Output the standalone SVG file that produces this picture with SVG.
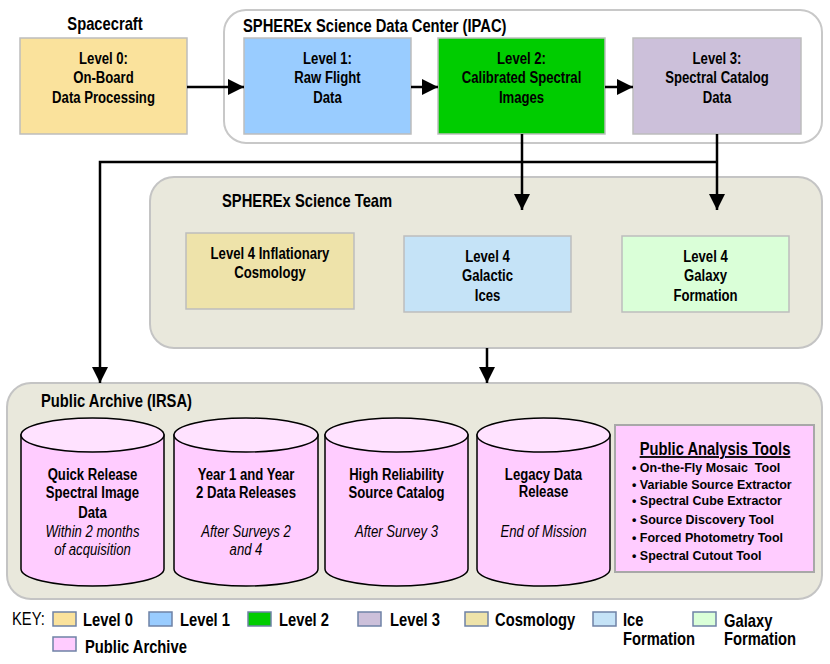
<svg xmlns="http://www.w3.org/2000/svg" width="830" height="664" viewBox="0 0 830 664">
<style>
text{font-family:'Liberation Sans',Arial,sans-serif;fill:#000}
.t{font-size:18px;font-weight:bold}
.b{font-size:16px;font-weight:bold;text-anchor:middle}
.i{font-size:16px;font-style:italic;text-anchor:middle}
.tool{font-size:13px;font-weight:bold}
.k{font-size:18px;font-weight:bold}
.box{stroke:#BDBDBD;stroke-width:1.5}
.cont{fill:#E9E8DC;stroke:#C4C4C4;stroke-width:2}
.cyl{fill:#FFCCFF;stroke:#000;stroke-width:1.5}
.cyltop{fill:#FFE2FF;stroke:#000;stroke-width:1.5}
.sw{stroke:#6F82A6;stroke-width:1.5}
.c{fill:none;stroke:#000;stroke-width:2.5}
</style>
<defs>
<marker id="ah" markerUnits="userSpaceOnUse" markerWidth="16" markerHeight="16" viewBox="0 0 14 14" refX="14" refY="7" orient="auto">
<path d="M0,0 L14,7 L0,14 Z" fill="#000"/>
</marker>
</defs>

<g id="ipac">
<rect x="224" y="10" width="598" height="133" rx="22" fill="#fff" stroke="#C8C8C8" stroke-width="2"/>
<text class="t" transform="translate(243 32) scale(.82 1)">SPHEREx Science Data Center (IPAC)</text>
</g>
<g id="team">
<rect class="cont" x="150" y="177" width="672" height="171" rx="24"/>
<text class="t" transform="translate(222 207) scale(.82 1)">SPHEREx Science Team</text>
</g>
<g id="archive">
<rect class="cont" x="7" y="383" width="815" height="216" rx="24"/>
<text class="t" transform="translate(41 407) scale(.82 1)">Public Archive (IRSA)</text>
</g>

<g id="spacecraft-label"><text class="t" text-anchor="middle" transform="translate(105 30) scale(.82 1)">Spacecraft</text></g>

<g id="level0">
<rect class="box" x="20" y="38" width="167" height="96" fill="#FAE29C"/>
<text class="b" transform="translate(103.5 64) scale(.82 1)">Level 0:</text>
<text class="b" transform="translate(103.5 83) scale(.82 1)">On-Board</text>
<text class="b" transform="translate(103.5 103) scale(.82 1)">Data Processing</text>
</g>
<g id="level1">
<rect class="box" x="244" y="38" width="167" height="96" fill="#99CCFF"/>
<text class="b" transform="translate(327.5 64) scale(.82 1)">Level 1:</text>
<text class="b" transform="translate(327.5 83) scale(.82 1)">Raw Flight</text>
<text class="b" transform="translate(327.5 103) scale(.82 1)">Data</text>
</g>
<g id="level2">
<rect class="box" x="438" y="38" width="167" height="96" fill="#00CC00"/>
<text class="b" transform="translate(521.5 64) scale(.82 1)">Level 2:</text>
<text class="b" transform="translate(521.5 83) scale(.82 1)">Calibrated Spectral</text>
<text class="b" transform="translate(521.5 103) scale(.82 1)">Images</text>
</g>
<g id="level3">
<rect class="box" x="633" y="38" width="168" height="96" fill="#CCC0DA"/>
<text class="b" transform="translate(717 64) scale(.82 1)">Level 3:</text>
<text class="b" transform="translate(717 83) scale(.82 1)">Spectral Catalog</text>
<text class="b" transform="translate(717 103) scale(.82 1)">Data</text>
</g>

<g id="cosmology">
<rect class="box" x="186" y="233" width="168" height="76" fill="#EEE3AA"/>
<text class="b" transform="translate(270 259) scale(.82 1)">Level 4 Inflationary</text>
<text class="b" transform="translate(270 278) scale(.82 1)">Cosmology</text>
</g>
<g id="ices">
<rect class="box" x="404" y="236" width="167" height="76" fill="#C5E3F7"/>
<text class="b" transform="translate(487.5 262) scale(.82 1)">Level 4</text>
<text class="b" transform="translate(487.5 281) scale(.82 1)">Galactic</text>
<text class="b" transform="translate(487.5 301) scale(.82 1)">Ices</text>
</g>
<g id="galaxy">
<rect class="box" x="622" y="236" width="167" height="76" fill="#DAFFD8"/>
<text class="b" transform="translate(705.5 262) scale(.82 1)">Level 4</text>
<text class="b" transform="translate(705.5 281) scale(.82 1)">Galaxy</text>
<text class="b" transform="translate(705.5 301) scale(.82 1)">Formation</text>
</g>

<g id="quick-release">
<path class="cyl" d="M21,435 V569 A71.5,17 0 0 0 164,569 V435 Z"/>
<ellipse class="cyltop" cx="92.5" cy="435" rx="71.5" ry="17"/>
<text class="b" transform="translate(92.5 480) scale(.82 1)">Quick Release</text>
<text class="b" transform="translate(92.5 498) scale(.82 1)">Spectral Image</text>
<text class="b" transform="translate(92.5 518) scale(.82 1)">Data</text>
<text class="i" transform="translate(92.5 537) scale(.82 1)">Within 2 months</text>
<text class="i" transform="translate(92.5 555) scale(.82 1)">of acquisition</text>
</g>
<g id="year-releases">
<path class="cyl" d="M174,435 V569 A72,17 0 0 0 318,569 V435 Z"/>
<ellipse class="cyltop" cx="246" cy="435" rx="72" ry="17"/>
<text class="b" transform="translate(246 480) scale(.82 1)">Year 1 and Year</text>
<text class="b" transform="translate(246 498) scale(.82 1)">2 Data Releases</text>
<text class="i" transform="translate(246 537) scale(.82 1)">After Surveys 2</text>
<text class="i" transform="translate(246 555) scale(.82 1)">and 4</text>
</g>
<g id="high-reliability">
<path class="cyl" d="M325,435 V569 A71.5,17 0 0 0 468,569 V435 Z"/>
<ellipse class="cyltop" cx="396.5" cy="435" rx="71.5" ry="17"/>
<text class="b" transform="translate(396.5 480) scale(.82 1)">High Reliability</text>
<text class="b" transform="translate(396.5 498) scale(.82 1)">Source Catalog</text>
<text class="i" transform="translate(396.5 537) scale(.82 1)">After Survey 3</text>
</g>
<g id="legacy">
<path class="cyl" d="M477,435 V569 A66.5,17 0 0 0 610,569 V435 Z"/>
<ellipse class="cyltop" cx="543.5" cy="435" rx="66.5" ry="17"/>
<text class="b" transform="translate(543.5 480) scale(.82 1)">Legacy Data</text>
<text class="b" transform="translate(543.5 497) scale(.82 1)">Release</text>
<text class="i" transform="translate(543.5 537) scale(.82 1)">End of Mission</text>
</g>

<g id="tools">
<rect x="615" y="425" width="199" height="147" fill="#FFCCFF" stroke="#A8A8A8" stroke-width="2"/>
<text class="t" text-anchor="middle" text-decoration="underline" transform="translate(715 455) scale(.82 1)">Public Analysis Tools</text>
<text class="tool" xml:space="preserve" transform="translate(632 472) scale(.96 1)">• On-the-Fly Mosaic  Tool</text>
<text class="tool" transform="translate(632 489) scale(.96 1)">• Variable Source Extractor</text>
<text class="tool" transform="translate(632 505) scale(.96 1)">• Spectral Cube Extractor</text>
<text class="tool" transform="translate(632 524) scale(.96 1)">• Source Discovery Tool</text>
<text class="tool" transform="translate(632 542) scale(.96 1)">• Forced Photometry Tool</text>
<text class="tool" transform="translate(632 560) scale(.96 1)">• Spectral Cutout Tool</text>
</g>

<g id="connectors">
<line class="c" x1="187" y1="87" x2="244" y2="87" marker-end="url(#ah)"/>
<line class="c" x1="411" y1="87" x2="438" y2="87" marker-end="url(#ah)"/>
<line class="c" x1="605" y1="87" x2="633" y2="87" marker-end="url(#ah)"/>
<line class="c" x1="522" y1="134" x2="522" y2="210" marker-end="url(#ah)"/>
<line class="c" x1="717" y1="134" x2="717" y2="210" marker-end="url(#ah)"/>
<polyline class="c" points="717,162 100,162 100,383" marker-end="url(#ah)"/>
<line class="c" x1="487" y1="348" x2="487" y2="383" marker-end="url(#ah)"/>
</g>

<g id="key">
<text style="font-size:18px" transform="translate(12 625) scale(.82 1)">KEY:</text>
<rect class="sw" x="53" y="612" width="23" height="14" fill="#FAE29C"/>
<text class="k" transform="translate(83 626) scale(.82 1)">Level 0</text>
<rect class="sw" x="149" y="612" width="23" height="14" fill="#99CCFF"/>
<text class="k" transform="translate(180 626) scale(.82 1)">Level 1</text>
<rect class="sw" x="248" y="612" width="23" height="14" fill="#00CC00"/>
<text class="k" transform="translate(279 626) scale(.82 1)">Level 2</text>
<rect class="sw" x="358" y="612" width="23" height="14" fill="#CCC0DA"/>
<text class="k" transform="translate(390 626) scale(.82 1)">Level 3</text>
<rect class="sw" x="465" y="612" width="23" height="14" fill="#EEE3AA"/>
<text class="k" transform="translate(495 626) scale(.82 1)">Cosmology</text>
<rect class="sw" x="593" y="612" width="23" height="14" fill="#C5E3F7"/>
<text class="k" transform="translate(623 626) scale(.82 1)">Ice</text>
<text class="k" transform="translate(623 645) scale(.82 1)">Formation</text>
<rect class="sw" x="693" y="612" width="23" height="14" fill="#DAFFD8"/>
<text class="k" transform="translate(724 627) scale(.82 1)">Galaxy</text>
<text class="k" transform="translate(724 645) scale(.82 1)">Formation</text>
<rect class="sw" x="53" y="637" width="23" height="14" fill="#FFCCFF"/>
<text class="k" transform="translate(85 653) scale(.82 1)">Public Archive</text>
</g>
</svg>
